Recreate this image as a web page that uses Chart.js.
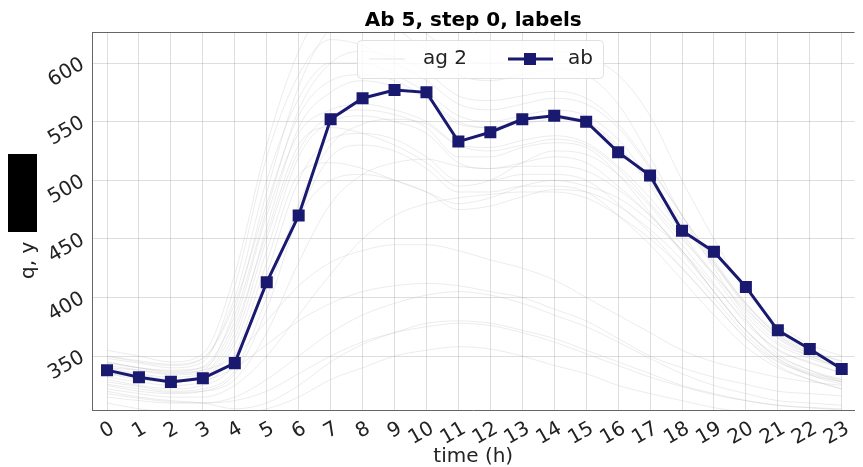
<!DOCTYPE html>
<html>
<head>
  <title>Ab 5, step 0, labels</title>
  <script src="https://cdn.jsdelivr.net/npm/chart.js"></script>
  <style>
    body { margin: 0; background: #fff; }
  </style>
</head>
<body>
  <canvas id="chart" width="863" height="467"></canvas>
  <script>
    var hours = [0, 1, 2, 3, 4, 5, 6, 7, 8, 9, 10, 11, 12, 13, 14, 15, 16, 17, 18, 19, 20, 21, 22, 23];
    var abValues = [338, 332, 328, 331, 344, 413, 470, 552, 570, 577, 575, 533, 541, 552, 555, 550, 524, 504, 457, 439, 409, 372, 356, 339];
    var yTicks = [350, 400, 450, 500, 550, 600];

    // faint background profiles ("ag 2")
    var agLines = [
      [345, 340, 338, 340, 380, 470, 540, 560, 565, 560, 550, 530, 525, 530, 535, 530, 510, 480, 450, 420, 390, 365, 350, 340],
      [335, 330, 328, 332, 360, 440, 520, 550, 555, 550, 540, 515, 510, 515, 520, 515, 495, 470, 440, 410, 380, 355, 345, 335],
      [350, 345, 342, 348, 400, 500, 570, 600, 600, 590, 575, 555, 550, 555, 560, 555, 535, 500, 465, 430, 395, 370, 355, 345],
      [330, 325, 322, 325, 345, 420, 500, 535, 540, 535, 520, 500, 500, 505, 505, 500, 480, 455, 425, 395, 365, 345, 335, 328],
      [340, 338, 335, 338, 390, 490, 580, 630, 640, 630, 610, 590, 585, 590, 595, 590, 565, 520, 470, 425, 385, 360, 348, 340],
      [325, 320, 318, 320, 335, 390, 470, 520, 530, 525, 510, 490, 490, 495, 495, 490, 470, 445, 415, 385, 358, 340, 330, 322],
      [320, 315, 312, 310, 305, 310, 325, 345, 360, 370, 378, 380, 378, 372, 365, 355, 345, 335, 325, 318, 312, 308, 306, 305],
      [310, 305, 302, 300, 300, 305, 315, 330, 340, 350, 355, 358, 356, 350, 342, 335, 325, 318, 312, 306, 302, 300, 300, 300],
      [335, 332, 330, 330, 340, 360, 380, 395, 405, 410, 412, 410, 405, 400, 390, 380, 365, 350, 340, 332, 326, 320, 318, 316],
      [345, 340, 336, 338, 350, 380, 410, 430, 440, 445, 445, 440, 432, 425, 415, 400, 385, 370, 355, 345, 338, 332, 328, 325],
      [355, 350, 345, 352, 420, 530, 610, 650, 655, 645, 625, 605, 600, 605, 610, 605, 590, 555, 500, 450, 405, 378, 360, 350],
      [340, 335, 332, 335, 370, 460, 545, 575, 585, 580, 570, 550, 545, 550, 555, 550, 530, 495, 455, 420, 388, 362, 350, 340],
      [332, 328, 325, 328, 352, 430, 505, 515, 510, 500, 490, 480, 485, 495, 500, 495, 485, 465, 440, 405, 372, 350, 338, 330],
      [342, 338, 334, 336, 375, 455, 530, 545, 540, 530, 515, 495, 500, 515, 525, 522, 505, 478, 445, 412, 378, 356, 344, 336],
      [348, 344, 340, 345, 410, 520, 590, 620, 615, 600, 585, 565, 560, 565, 570, 565, 545, 510, 470, 430, 392, 366, 352, 343],
      [328, 324, 320, 322, 338, 400, 480, 530, 548, 552, 548, 530, 528, 534, 538, 532, 512, 485, 452, 418, 382, 352, 338, 328],
      [338, 334, 330, 333, 365, 450, 525, 555, 560, 556, 545, 520, 520, 528, 532, 528, 505, 472, 438, 405, 372, 348, 336, 330],
      [322, 318, 315, 315, 325, 350, 385, 420, 450, 470, 480, 485, 488, 490, 490, 485, 470, 450, 425, 395, 365, 342, 330, 322],
      [315, 312, 310, 310, 315, 330, 350, 370, 385, 395, 402, 405, 402, 395, 385, 375, 362, 348, 335, 325, 318, 312, 310, 308],
      [350, 346, 343, 348, 395, 480, 555, 585, 590, 585, 570, 548, 545, 548, 552, 548, 528, 498, 462, 428, 394, 368, 354, 346],
      [336, 332, 329, 331, 350, 410, 470, 500, 505, 500, 490, 475, 478, 486, 492, 490, 478, 458, 432, 400, 368, 346, 334, 328],
      [344, 340, 337, 341, 385, 475, 560, 600, 610, 605, 592, 572, 568, 572, 576, 570, 548, 512, 470, 432, 395, 368, 352, 342],
      [318, 314, 311, 310, 312, 320, 335, 350, 362, 370, 375, 378, 376, 370, 362, 352, 342, 332, 324, 317, 312, 308, 306, 304],
      [326, 322, 319, 320, 330, 370, 430, 480, 505, 515, 518, 512, 510, 512, 512, 508, 492, 470, 440, 405, 372, 348, 334, 326]
    ];

    var FONT = '"DejaVu Sans", sans-serif';
    var agColor = 'rgba(185, 185, 185, 0.28)';
    var abColor = '#191970';

    function toPoints(values) {
      return values.map(function(v, i) { return { x: hours[i], y: v }; });
    }

    var datasets = [{
      label: 'ab',
      data: toPoints(abValues),
      borderColor: abColor,
      backgroundColor: abColor,
      borderWidth: 3,
      pointStyle: 'rect',
      pointRadius: 8.5,
      pointBorderWidth: 0,
      order: 0
    }];
    agLines.forEach(function(line) {
      datasets.push({
        label: 'ag 2',
        data: toPoints(line),
        borderColor: agColor,
        borderWidth: 1,
        pointRadius: 0,
        cubicInterpolationMode: 'monotone',
        order: 1
      });
    });

    var decorations = {
      id: 'decorations',
      afterDraw: function(chart) {
        var ctx = chart.ctx;
        var a = chart.chartArea;
        var cx = (a.left + a.right) / 2;
        ctx.save();

        // top spine
        ctx.strokeStyle = '#666';
        ctx.lineWidth = 1;
        ctx.beginPath();
        ctx.moveTo(a.left, a.top + 0.5);
        ctx.lineTo(a.right, a.top + 0.5);
        ctx.stroke();

        // title
        ctx.fillStyle = '#000';
        ctx.font = 'bold 20px ' + FONT;
        ctx.textAlign = 'center';
        ctx.textBaseline = 'alphabetic';
        ctx.fillText('Ab 5, step 0, labels', cx, 26);

        // axis titles
        ctx.font = '20px ' + FONT;
        ctx.fillStyle = '#222';
        ctx.fillText('time (h)', cx, 462);
        ctx.save();
        ctx.translate(34, 279);
        ctx.rotate(-Math.PI / 2);
        ctx.textAlign = 'left';
        ctx.fillText('q, y', 0, 0);
        ctx.restore();
        ctx.fillStyle = '#000';
        ctx.fillRect(8, 154, 29, 78);

        // legend box
        ctx.fillStyle = 'rgba(255, 255, 255, 0.8)';
        ctx.strokeStyle = '#e0e0e0';
        ctx.beginPath();
        ctx.roundRect(357.5, 40.5, 246, 38, 4);
        ctx.fill();
        ctx.stroke();

        var ly = 59;
        ctx.strokeStyle = 'rgba(185, 185, 185, 0.35)';
        ctx.lineWidth = 1;
        ctx.beginPath();
        ctx.moveTo(369, ly);
        ctx.lineTo(405, ly);
        ctx.stroke();

        ctx.strokeStyle = abColor;
        ctx.lineWidth = 3;
        ctx.beginPath();
        ctx.moveTo(508, ly);
        ctx.lineTo(553, ly);
        ctx.stroke();
        ctx.fillStyle = abColor;
        ctx.fillRect(524, ly - 6, 12, 12);

        ctx.fillStyle = '#222';
        ctx.font = '20px ' + FONT;
        ctx.textAlign = 'left';
        ctx.textBaseline = 'middle';
        ctx.fillText('ag 2', 423, ly);
        ctx.fillText('ab', 568, ly);
        ctx.restore();
      }
    };

    new Chart(document.getElementById('chart'), {
      type: 'line',
      data: { datasets: datasets },
      options: {
        responsive: false,
        animation: false,
        devicePixelRatio: 1,
        layout: { padding: { top: 32, left: 0, right: 0, bottom: 0 } },
        plugins: {
          legend: { display: false },
          title: { display: false },
          tooltip: { enabled: false }
        },
        scales: {
          x: {
            type: 'linear',
            min: -0.47,
            max: 23.4,
            afterFit: function(scale) { scale.height = 57; },
            grid: { color: 'rgba(0, 0, 0, 0.13)', drawTicks: false },
            border: { color: '#666' },
            ticks: {
              stepSize: 1,
              includeBounds: false,
              autoSkip: false,
              minRotation: 30,
              maxRotation: 30,
              padding: 7,
              labelOffset: 6,
              color: '#222',
              font: { family: FONT, size: 20 }
            }
          },
          y: {
            min: 304,
            max: 626.5,
            afterFit: function(scale) { scale.width = 92; },
            afterBuildTicks: function(scale) {
              scale.ticks = yTicks.map(function(v) { return { value: v }; });
            },
            grid: { color: 'rgba(0, 0, 0, 0.13)', drawTicks: false },
            border: { color: '#666' },
            ticks: {
              minRotation: 30,
              maxRotation: 30,
              padding: 9,
              color: '#222',
              font: { family: FONT, size: 20 }
            }
          }
        }
      },
      plugins: [decorations]
    });
  </script>
</body>
</html>
